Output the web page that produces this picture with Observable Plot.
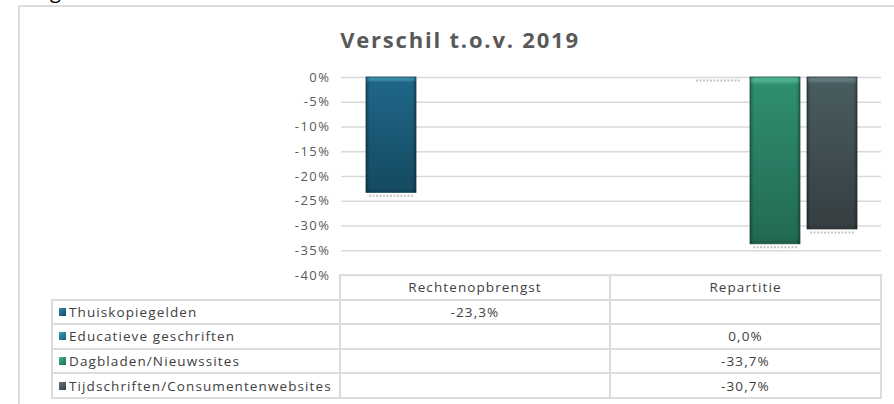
<!DOCTYPE html>
<html><head><meta charset="utf-8">
<script src="https://cdn.jsdelivr.net/npm/d3@7"></script>
<script src="https://cdn.jsdelivr.net/npm/@observablehq/plot@0.6"></script>
<style>
html,body{margin:0;padding:0;background:#fff;}
#wrap{position:relative;width:894px;height:404px;overflow:hidden;font-family:"Open Sans",sans-serif;}
.ln{position:absolute;background:#dcdcdc;}
#title{position:absolute;left:260px;width:400px;top:27.5px;text-align:center;font-weight:700;font-size:22px;line-height:22px;color:#595959;letter-spacing:1.8px;}
#cut{position:absolute;left:50px;top:-18.8px;font-size:20px;line-height:20px;color:#000;}
#chart{position:absolute;left:0;top:0;}
#chart svg text{letter-spacing:1.5px;}
.cell{position:absolute;display:flex;align-items:center;font-size:13.5px;color:#404040;letter-spacing:1.1px;white-space:nowrap;}
.sw{display:inline-block;width:7px;height:8px;margin-right:3px;}
</style></head>
<body><div id="wrap">
<div id="cut">g</div>
<div class="ln" style="left:18px;top:5px;width:2px;height:400px;"></div>
<div class="ln" style="left:18px;top:5px;width:876px;height:2px;"></div>
<div id="title">Verschil t.o.v. 2019</div>
<div id="chart"></div>
<div id="table"></div>
</div>
<script>
// ---- data ----
const columns = ["Rechtenopbrengst", "Repartitie"];
const series = ["Thuiskopiegelden", "Educatieve geschriften", "Dagbladen/Nieuwssites", "Tijdschriften/Consumentenwebsites"];
const rechtenopbrengst = [-23.3, null, null, null];
const repartitie = [null, 0.0, -33.7, -30.7];
const yTicks = [0, -5, -10, -15, -20, -25, -30, -35, -40];

// ---- styles ----
const palette = [
  {hi: "#3a8aab", top: "#1f6687", bot: "#154a62", edge: "#123f54"},
  {hi: "#3fa0b0", top: "#257f92", bot: "#1a5f6e", edge: "#164f5c"},
  {hi: "#4cb08f", top: "#2f8e70", bot: "#226a54", edge: "#1c5744"},
  {hi: "#62777b", top: "#485c60", bot: "#363f42", edge: "#2c3436"}
];

const valuesByColumn = [rechtenopbrengst, repartitie];
const rows = [];
columns.forEach((c, ci) => series.forEach((s, si) => {
  const v = valuesByColumn[ci][si];
  if (v !== null) rows.push({column: c, series: s, value: v});
}));

const sIdx = s => series.indexOf(s);

const svg = Plot.plot({
  width: 894, height: 300,
  marginLeft: 340, marginRight: 13, marginTop: 77, marginBottom: 25,
  style: {fontFamily: "Open Sans", fontSize: "13px", color: "#595959", background: "transparent", overflow: "visible"},
  fx: {domain: columns, axis: null, paddingInner: 0, paddingOuter: 0},
  x: {domain: series, axis: null, paddingInner: 0.13, paddingOuter: 0.413},
  y: {domain: [-40, 0], axis: null},
  color: {type: "identity"},
  marks: [
    Plot.gridY(yTicks, {stroke: "#d9d9d9", strokeOpacity: 1, strokeWidth: 1.5}),
    Plot.axisY({ticks: yTicks, tickFormat: d => `${d}%`, tickSize: 0, tickPadding: 11, fill: "#595959", label: null}),
    Plot.tickY(rows, {fx: "column", x: "series", y: "value", stroke: "#c4c4c4", strokeWidth: 2, strokeDasharray: "2,1.5", dy: 3, insetLeft: 3, insetRight: 3}),
    Plot.barY(rows, {fx: "column", x: "series", y: "value", fill: d => `url(#grad${sIdx(d.series)})`, stroke: d => palette[sIdx(d.series)].edge, strokeWidth: 0.8}),
    Plot.barY(rows, {fx: "column", x: "series", y: "value", fill: "url(#edgeShade)"})
  ]
});
document.getElementById("chart").appendChild(svg);

// gradients
const defs = d3.select(svg).insert("defs", ":first-child");
palette.forEach((p, i) => {
  const g = defs.append("linearGradient").attr("id", `grad${i}`).attr("x1", 0).attr("y1", 0).attr("x2", 0).attr("y2", 1);
  [[0, p.hi], [0.025, p.hi], [0.045, p.top], [0.97, p.bot], [1, p.edge]].forEach(([o, c]) =>
    g.append("stop").attr("offset", o).attr("stop-color", c));
});
const eg = defs.append("linearGradient").attr("id", "edgeShade").attr("x1", 0).attr("y1", 0).attr("x2", 1).attr("y2", 0);
[[0, 0.28], [0.08, 0], [0.92, 0], [1, 0.28]].forEach(([o, a]) =>
  eg.append("stop").attr("offset", o).attr("stop-color", "#000").attr("stop-opacity", a));

// ---- data table ----
const tbl = document.getElementById("table");
const top0 = 275, rowH = 24.6;
const xL = 52, xC1 = 340, xC2 = 610, xR = 881;
const colX = [[xC1, xC2], [xC2, xR]];
function line(l, t, w, h) {
  const d = document.createElement("div");
  d.className = "ln";
  Object.assign(d.style, {left: l + "px", top: t + "px", width: w + "px", height: h + "px"});
  tbl.appendChild(d);
}
function cell(l, t, w, h, html, center) {
  const d = document.createElement("div");
  d.className = "cell";
  Object.assign(d.style, {left: l + "px", top: t + "px", width: w + "px", height: h + "px", justifyContent: center ? "center" : "flex-start"});
  d.innerHTML = html;
  tbl.appendChild(d);
}
const nRows = series.length + 1;
line(xC1 - 1, top0 - 1, xR - xC1 + 2, 2);
for (let r = 1; r <= nRows; r++) line(xL - 1, top0 + r * rowH - 1, xR - xL + 2, 2);
line(xL - 1, top0 + rowH - 1, 2, series.length * rowH + 2);
[xC1, xC2, xR].forEach(x => line(x - 1, top0 - 1, 2, nRows * rowH + 2));
columns.forEach((c, ci) => cell(colX[ci][0], top0, colX[ci][1] - colX[ci][0], rowH, c, true));
const fmt = v => v.toFixed(1).replace(".", ",") + "%";
series.forEach((s, si) => {
  const t = top0 + (si + 1) * rowH;
  const p = palette[si];
  cell(xL + 7, t, xC1 - xL - 7, rowH,
    `<span class="sw" style="background:linear-gradient(135deg, ${p.hi}, ${p.top} 55%, ${p.bot})"></span>${s}`, false);
  columns.forEach((c, ci) => {
    const v = valuesByColumn[ci][si];
    if (v !== null) cell(colX[ci][0], t, colX[ci][1] - colX[ci][0], rowH, fmt(v), true);
  });
});
</script>
</body></html>
